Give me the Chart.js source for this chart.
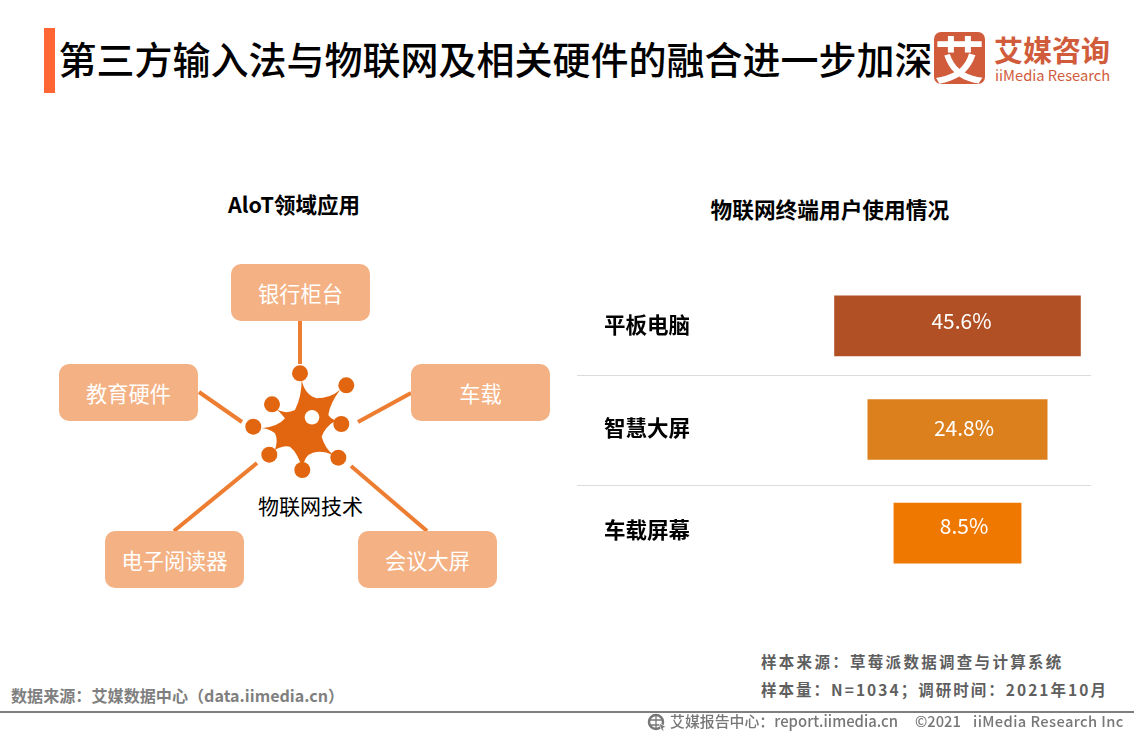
<!DOCTYPE html>
<html>
<head>
<meta charset="utf-8">
<script src="https://cdn.jsdelivr.net/npm/chart.js@4/dist/chart.umd.min.js"></script>
<style>
body { margin: 0; width: 1134px; height: 737px; background: #fff; overflow: hidden; position: relative; font-family: "Noto Sans CJK SC", sans-serif; }
.t { position: absolute; white-space: nowrap; transform: translateY(-50%); line-height: 1; }
.gray { color: #5f5f5f; font-weight: 700; }
.foot { color: #777; font-weight: 500; }
.box { position: absolute; width: 139px; height: 57px; line-height: 58px; border-radius: 10px; background: #f4b183; color: #fff; font-size: 21.2px; text-align: center; }
.sep { position: absolute; left: 577px; width: 514px; height: 1px; background: #dcdcdc; }
#chart { position: absolute; left: 604px; top: 274px; }
svg { position: absolute; left: 0; top: 0; }
</style>
</head>
<body>
<div style="position:absolute;left:44px;top:28px;width:11px;height:65px;background:#ff6633"></div>
<div class="t" style="left:58.5px;top:58px;font-size:38px;font-weight:500;color:#000">第三方输入法与物联网及相关硬件的融合进一步加深</div>

<div style="position:absolute;left:934px;top:32px;width:51px;height:52px;border-radius:7px;background:#d05c3c;color:#fff;font-size:50px;font-weight:700;line-height:50px;text-align:center">艾</div>
<div class="t" style="left:994px;top:49px;font-size:29px;font-weight:700;color:#d05c3c">艾媒咨询</div>
<div class="t" style="left:995px;top:75px;font-size:14.7px;color:#d05c3c">iiMedia Research</div>

<div class="t" style="left:228px;top:204px;font-size:21.5px;font-weight:700;color:#000">AloT领域应用</div>
<div class="t" style="left:710.5px;top:209px;font-size:21.7px;font-weight:700;color:#000">物联网终端用户使用情况</div>

<svg width="1134" height="737">
  <g stroke="#ed7d31" stroke-width="4" fill="none">
    <line x1="300" y1="320" x2="300" y2="364"/>
    <line x1="199" y1="392" x2="242" y2="422"/>
    <line x1="411" y1="393" x2="358" y2="422"/>
    <line x1="257" y1="463" x2="174" y2="531"/>
    <line x1="351" y1="466" x2="427" y2="531"/>
  </g>
  <g fill="#e2660f">
    <circle cx="300" cy="373.3" r="8"/>
    <circle cx="346.3" cy="385.3" r="8"/>
    <circle cx="272" cy="404.3" r="8"/>
    <circle cx="253.3" cy="426.7" r="8"/>
    <circle cx="341.3" cy="424" r="8"/>
    <circle cx="269.3" cy="454.7" r="8"/>
    <circle cx="338.3" cy="457.7" r="8"/>
    <circle cx="302.3" cy="470" r="8"/>
    <path transform="translate(190,340) scale(0.3333)" d="M335 120 Q345 165 380 175 Q420 175 450 150 Q420 190 415 225 Q425 240 440 240 Q405 260 395 290 Q405 325 430 345 Q385 325 355 345 Q340 360 338 390 Q325 340 300 320 Q280 315 255 330 Q265 300 255 280 Q235 265 215 265 Q265 260 285 235 Q270 215 255 205 Q285 225 315 210 Q335 170 335 120 Z"/>
  </g>
  <circle cx="312" cy="417.3" r="7.3" fill="#fff"/>
</svg>

<div class="box" style="left:231px;top:264px">银行柜台</div>
<div class="box" style="left:59px;top:364px">教育硬件</div>
<div class="box" style="left:411px;top:364px">车载</div>
<div class="box" style="left:105px;top:531px">电子阅读器</div>
<div class="box" style="left:358px;top:531px">会议大屏</div>
<div class="t" style="left:258px;top:505px;font-size:21px;color:#000">物联网技术</div>

<div class="sep" style="top:375px"></div>
<div class="sep" style="top:485px"></div>
<canvas id="chart" width="487" height="311"></canvas>

<div class="t gray" style="left:761px;top:662px;font-size:15.5px;letter-spacing:2.3px">样本来源：草莓派数据调查与计算系统</div>
<div class="t gray" style="left:761px;top:690px;font-size:15.5px;letter-spacing:2.03px">样本量：N=1034；调研时间：2021年10月</div>
<div class="t gray" style="left:11px;top:695px;font-size:16.1px;color:#7f7f7f">数据来源：艾媒数据中心（data.iimedia.cn）</div>
<div style="position:absolute;left:0;top:711px;width:1134px;height:2px;background:#7f7f7f"></div>
<svg width="1134" height="737" style="pointer-events:none">
  <circle cx="656" cy="722" r="7" fill="none" stroke="#777" stroke-width="2.5"/>
  <path d="M650 720 L662 720 M650 725 L662 725 M656 715 L656 729" stroke="#777" stroke-width="1.3"/>
  <path d="M659 723 L666 727 L663 728 L664 732 L661 729 Z" fill="#777" stroke="#fff" stroke-width=".7"/>
</svg>
<div class="t foot" style="left:670px;top:721px;font-size:14.9px">艾媒报告中心：report.iimedia.cn</div>
<div class="t foot" style="left:915px;top:721px;font-size:14.7px">©2021</div>
<div class="t foot" style="left:973px;top:721px;font-size:14.7px;letter-spacing:.4px">iiMedia Research Inc</div>

<script>
const categories = ['平板电脑', '智慧大屏', '车载屏幕'];
const shares = [45.6, 24.8, 8.5];

// the source bars are not to scale: every bar carries the same extra length
const barBase = 31.25;
const barColors = ['#b05024', '#dc801e', '#ef7800'];
// value labels sit a little off centre in the source
const labelNudge = [[4, -5], [6.5, -1.5], [6.5, -7]];
const categoryNudge = [-1, -1.5, -3];

const rowLabels = {
    id: 'rowLabels',
    afterDatasetsDraw(chart) {
        const ctx = chart.ctx;
        const mid = chart.scales.x.getPixelForValue(0);
        const yScale = chart.scales.y;
        ctx.save();
        ctx.textBaseline = 'middle';
        categories.forEach(function(name, i) {
            const y = yScale.getPixelForTick(i);
            ctx.fillStyle = '#000';
            ctx.font = '700 21.5px "Noto Sans CJK SC"';
            ctx.textAlign = 'left';
            ctx.fillText(name, 0, y + categoryNudge[i]);
            ctx.fillStyle = '#fff';
            ctx.font = '21px "Noto Sans CJK SC"';
            ctx.textAlign = 'center';
            ctx.fillText(shares[i].toFixed(1) + '%', mid + labelNudge[i][0], y + labelNudge[i][1]);
        });
        ctx.restore();
    }
};

new Chart(document.getElementById('chart').getContext('2d'), {
    type: 'bar',
    data: {
        labels: categories,
        datasets: [{
            data: shares.map(function(v) { return [-(v + barBase) / 2, (v + barBase) / 2]; }),
            backgroundColor: barColors,
            barThickness: 60,
            borderSkipped: false
        }]
    },
    options: {
        indexAxis: 'y',
        responsive: false,
        animation: false,
        layout: { padding: 0 },
        plugins: { legend: { display: false }, tooltip: { enabled: false } },
        scales: {
            x: { display: false, min: -41.72, max: 41.72 },
            y: {
                afterFit: function(scale) {
                    scale.width = 220;
                    scale.paddingTop = 0;
                    scale.paddingBottom = 0;
                },
                grid: { display: false, drawTicks: false },
                border: { display: false },
                ticks: { display: false }
            }
        }
    },
    plugins: [rowLabels]
});
</script>
</body>
</html>
